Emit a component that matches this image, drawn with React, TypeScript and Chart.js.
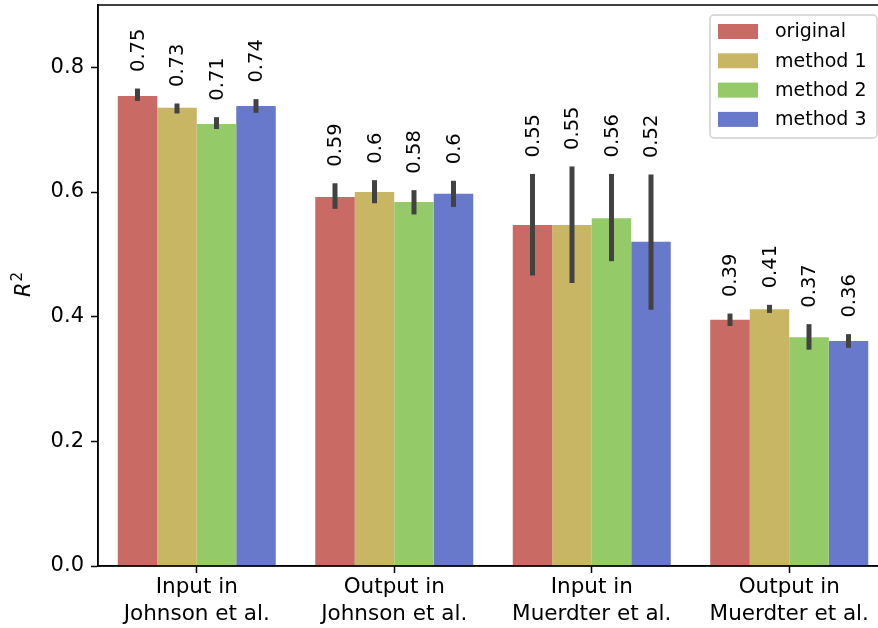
import React, { useEffect, useRef } from "react";
import { Chart, registerables } from "chart.js";

Chart.register(...registerables);

const categories: string[][] = [
  ["Input in", "Johnson et al."],
  ["Output in", "Johnson et al."],
  ["Input in", "Muerdter et al."],
  ["Output in", "Muerdter et al."],
];
const seriesNames = ["original", "method 1", "method 2", "method 3"];
const seriesColors = ["#c96b64", "#c9b665", "#94cb68", "#6879cb"];

const original = [0.754, 0.592, 0.547, 0.395];
const method1 = [0.735, 0.6, 0.547, 0.412];
const method2 = [0.709, 0.584, 0.558, 0.367];
const method3 = [0.738, 0.597, 0.52, 0.361];

const originalErrLow = [0.746, 0.573, 0.466, 0.385];
const originalErrHigh = [0.766, 0.614, 0.629, 0.405];
const method1ErrLow = [0.726, 0.582, 0.454, 0.406];
const method1ErrHigh = [0.742, 0.619, 0.641, 0.419];
const method2ErrLow = [0.701, 0.564, 0.489, 0.347];
const method2ErrHigh = [0.72, 0.603, 0.629, 0.388];
const method3ErrLow = [0.727, 0.576, 0.411, 0.35];
const method3ErrHigh = [0.749, 0.618, 0.628, 0.372];

const originalLabels = ["0.75", "0.59", "0.55", "0.39"];
const method1Labels = ["0.73", "0.6", "0.55", "0.41"];
const method2Labels = ["0.71", "0.58", "0.56", "0.37"];
const method3Labels = ["0.74", "0.6", "0.52", "0.36"];

const yTicks = [0, 0.2, 0.4, 0.6, 0.8];

const seriesValues = [original, method1, method2, method3];
const seriesErrLow = [originalErrLow, method1ErrLow, method2ErrLow, method3ErrLow];
const seriesErrHigh = [originalErrHigh, method1ErrHigh, method2ErrHigh, method3ErrHigh];
const seriesLabels = [originalLabels, method1Labels, method2Labels, method3Labels];

const FONT = "'DejaVu Sans', sans-serif";

const overlayPlugin = {
  id: "overlay",
  afterDatasetsDraw(chart: any) {
    const ctx = chart.ctx;
    const y = chart.scales.y;
    const area = chart.chartArea;
    ctx.save();
    // error bars
    seriesValues.forEach((_, di) => {
      const meta = chart.getDatasetMeta(di);
      meta.data.forEach((bar: any, i: number) => {
        const x = bar.x;
        const yl = y.getPixelForValue(seriesErrLow[di][i]);
        const yh = y.getPixelForValue(seriesErrHigh[di][i]);
        ctx.strokeStyle = "#424242";
        ctx.lineWidth = 5;
        ctx.lineCap = "butt";
        ctx.beginPath();
        ctx.moveTo(x, yl);
        ctx.lineTo(x, yh);
        ctx.stroke();
        // value labels
        ctx.save();
        ctx.translate(x, yh - 16.5);
        ctx.rotate(-Math.PI / 2);
        ctx.fillStyle = "#000";
        ctx.font = `19.5px ${FONT}`;
        ctx.textAlign = "left";
        ctx.textBaseline = "middle";
        ctx.fillText(seriesLabels[di][i], 0, 1);
        ctx.restore();
      });
    });
    // frame
    ctx.strokeStyle = "#000";
    ctx.lineWidth = 1.5;
    ctx.strokeRect(area.left, area.top, area.right - area.left, area.bottom - area.top);
    // y axis title R^2
    ctx.save();
    ctx.translate(30, 286);
    ctx.rotate(-Math.PI / 2);
    ctx.fillStyle = "#000";
    ctx.textBaseline = "alphabetic";
    ctx.textAlign = "left";
    ctx.font = `italic 21px ${FONT}`;
    const rw = ctx.measureText("R").width;
    ctx.fillText("R", -11, 0);
    ctx.font = `15px ${FONT}`;
    ctx.fillText("2", -11 + rw + 1, -8);
    ctx.restore();
    // legend
    const lx = 710, ly = 15, lw = 167, lh = 123;
    ctx.fillStyle = "rgba(255,255,255,0.8)";
    ctx.strokeStyle = "#d0d0d0";
    ctx.lineWidth = 1.5;
    ctx.beginPath();
    ctx.roundRect(lx, ly, lw, lh, 4);
    ctx.fill();
    ctx.stroke();
    seriesNames.forEach((name, i) => {
      const cy = 31.5 + i * 29.3;
      ctx.fillStyle = seriesColors[i];
      ctx.fillRect(718, cy - 7.5, 40, 15);
      ctx.fillStyle = "#000";
      ctx.font = `19px ${FONT}`;
      ctx.textAlign = "left";
      ctx.textBaseline = "middle";
      ctx.fillText(name, 775, cy + 1);
    });
    ctx.restore();
  },
};

export default function App() {
  const ref = useRef<HTMLCanvasElement | null>(null);
  useEffect(() => {
    if (!ref.current) return;
    const chart = new Chart(ref.current, {
      type: "bar",
      data: {
        labels: categories,
        datasets: seriesValues.map((vals, i) => ({
          label: seriesNames[i],
          data: vals,
          backgroundColor: seriesColors[i],
          borderWidth: 0,
          categoryPercentage: 0.8,
          barPercentage: 1.0,
        })),
      },
      options: {
        animation: false,
        responsive: false,
        devicePixelRatio: 1,
        layout: { padding: { left: 0, top: 5, right: 12, bottom: 0 } },
        plugins: { legend: { display: false }, tooltip: { enabled: false } },
        scales: {
          x: {
            offset: true,
            grid: { display: true, drawOnChartArea: false, drawTicks: true, tickLength: 7, tickColor: "#000", tickWidth: 1.5, offset: false },
            border: { display: true, color: "#000", width: 1.5 },
            ticks: {
              color: "#000",
              font: { family: FONT, size: 21.5, lineHeight: 1.24 },
              padding: 1,
              maxRotation: 0,
              autoSkip: false,
            },
            afterFit: (s: any) => {
              s.height = 62;
              s.paddingLeft = 0;
              s.paddingRight = 0;
            },
          },
          y: {
            min: 0,
            max: 0.9,
            afterBuildTicks: (s: any) => {
              s.ticks = yTicks.map((v) => ({ value: v }));
            },
            grid: { display: true, drawOnChartArea: false, drawTicks: true, tickLength: 7, tickColor: "#000", tickWidth: 1.5 },
            border: { display: true, color: "#000", width: 1.5 },
            ticks: {
              color: "#000",
              font: { family: FONT, size: 21 },
              padding: 7,
              callback: (v: any) => Number(v).toFixed(1),
            },
            afterFit: (s: any) => {
              s.width = 98;
              s.paddingTop = 0;
              s.paddingBottom = 0;
            },
          },
        },
      },
      plugins: [overlayPlugin],
    });
    return () => chart.destroy();
  }, []);
  return (
    <div style={{ position: "absolute", left: 0, top: 0, width: 878, height: 628, overflow: "hidden", background: "#fff" }}>
      <canvas ref={ref} width={900} height={628} style={{ width: 900, height: 628, display: "block" }} />
    </div>
  );
}
